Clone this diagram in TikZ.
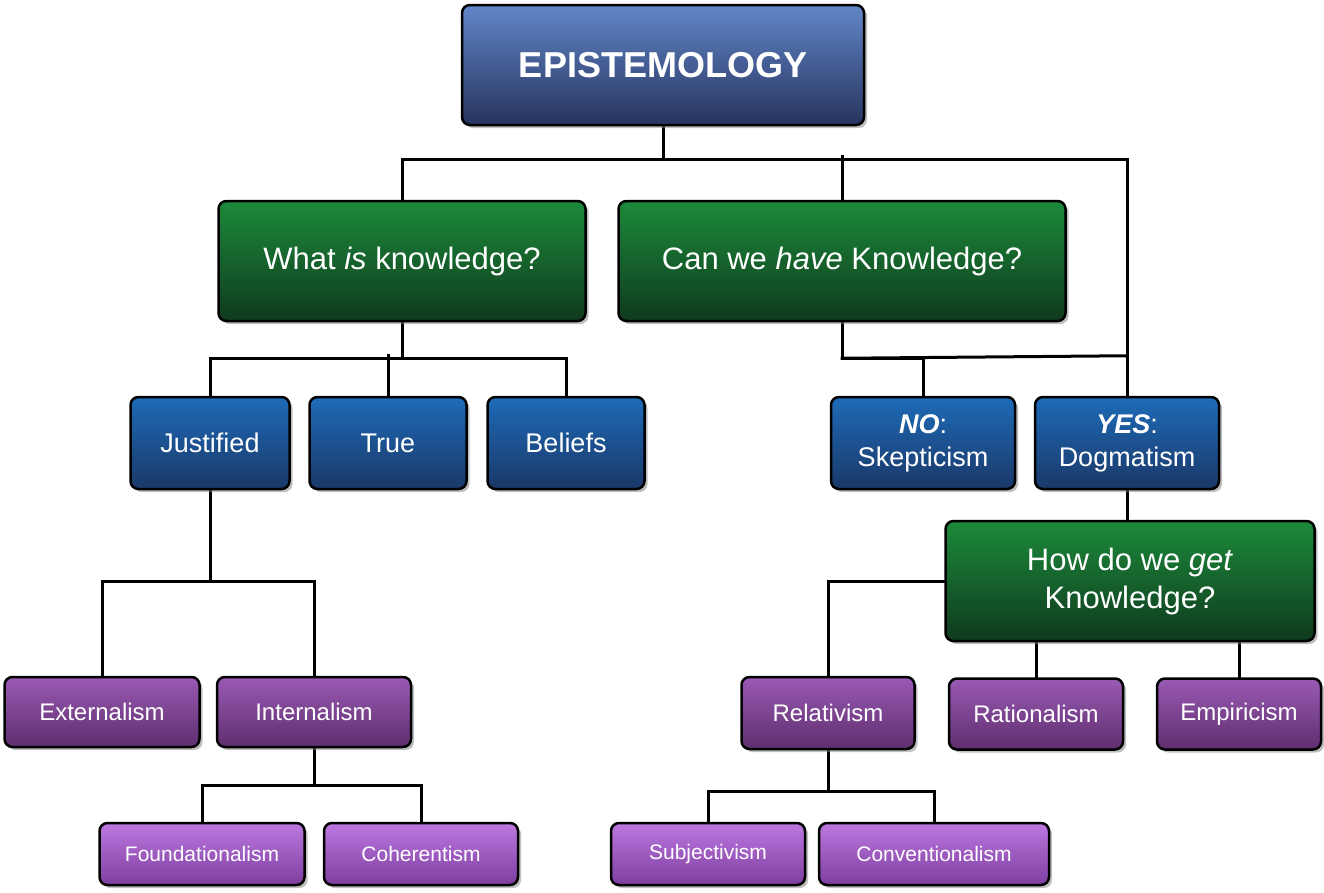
\documentclass[tikz,border=0pt]{standalone}
\usepackage{fontspec}
\setmainfont{Liberation Sans}
\usetikzlibrary{shadows,backgrounds,calc}
\definecolor{epiA}{HTML}{6286C8}\definecolor{epiB}{HTML}{26345E}
\definecolor{grA}{HTML}{1C8A3A}\definecolor{grB}{HTML}{0F3A1E}
\definecolor{blA}{HTML}{1E6BB8}\definecolor{blB}{HTML}{1A3868}
\definecolor{puA}{HTML}{9A5AB4}\definecolor{puB}{HTML}{5E2E6E}
\definecolor{lpA}{HTML}{BC78E0}\definecolor{lpB}{HTML}{7E3EA0}
\tikzset{
 box/.style={draw=black,line width=2.5pt,rounded corners=8pt,text=white,align=center,inner sep=0pt,
   shading angle=30,drop shadow={shadow xshift=3pt,shadow yshift=-3pt,opacity=0.5}},
 epibox/.style={box,top color=epiA,bottom color=epiB,font=\bfseries\fontsize{36}{40}\selectfont},
 grbox/.style={box,top color=grA,bottom color=grB,font=\fontsize{31}{38}\selectfont},
 blbox/.style={box,top color=blA,bottom color=blB,font=\fontsize{27}{33}\selectfont},
 pubox/.style={box,top color=puA,bottom color=puB,font=\fontsize{24}{28}\selectfont},
 lpbox/.style={box,top color=lpA,bottom color=lpB,font=\fontsize{21}{25}\selectfont},
 ln/.style={line width=3pt,line cap=rect}
}
\newcommand{\bx}[7]{\node[#1,minimum width=#4pt,minimum height=#5pt] (#6) at (#2,#3) {#7};}
\begin{document}
\begin{tikzpicture}[x=1pt,y=-1pt]
\useasboundingbox (0,0) rectangle (1324,892);
\bx{epibox}{663}{65}{402}{120}{epi}{EPISTEMOLOGY}
\bx{grbox}{402}{261}{367}{120}{what}{What \textit{is} knowledge?}
\bx{grbox}{842}{261}{447}{120}{can}{Can we \textit{have} Knowledge?}
\bx{blbox}{210}{443}{159}{92}{just}{Justified}
\bx{blbox}{388}{443}{157}{92}{true}{True}
\bx{blbox}{566}{443}{157}{92}{bel}{Beliefs}
\bx{blbox}{923}{443}{184}{92}{no}{\textbf{\textit{NO}}:\\Skepticism}
\bx{blbox}{1127}{443}{184}{92}{yes}{\textbf{\textit{YES}}:\\Dogmatism}
\bx{grbox}{1130}{581}{369}{120}{how}{How do we \textit{get}\\Knowledge?}
\bx{pubox}{102}{712}{195}{70}{ext}{Externalism}
\bx{pubox}{314}{712}{194}{70}{int}{Internalism}
\bx{pubox}{828}{713}{173}{72}{rel}{Relativism}
\bx{pubox}{1036}{714}{174}{71}{rat}{Rationalism}
\bx{pubox}{1239}{714}{164}{71}{emp}{Empiricism}
\bx{lpbox}{202}{854}{205}{62}{fou}{Foundationalism}
\bx{lpbox}{421}{854}{194}{62}{coh}{Coherentism}
\bx{lpbox}{708}{854}{194}{62}{sub}{Subjectivism}
\bx{lpbox}{934}{854}{230}{62}{con}{Conventionalism}
\begin{scope}[on background layer]
\draw[ln] (epi.south) -- ++(0,33);
\draw[ln] (what.north) |- ($(epi.south)+(0,33)$) -| (yes.north);
\draw[ln] (can.north) -- ++(0,-43);
\draw[ln] (can.south) -- ++(0,36) -| (no.north);
\draw[ln] ($(can.south)+(0,36)$) -- ($(yes.north)+(0,-40)$);
\draw[ln] (what.south) -- ++(0,36);
\draw[ln] (just.north) |- ($(what.south)+(0,36)$) -| (bel.north);
\draw[ln] (true.north) -- ++(0,-40);
\draw[ln] (just.south) -- ++(0,91);
\draw[ln] (ext.north) |- ($(just.south)+(0,91)$) -| (int.north);
\draw[ln] (int.south) -- ++(0,37);
\draw[ln] (fou.north) |- ($(int.south)+(0,37)$) -| (coh.north);
\draw[ln] (yes.south) -- (yes.south |- how.north);
\draw[ln] (how.west) -| (rel.north);
\draw[ln] (rat.north |- how.south) -- (rat.north);
\draw[ln] (emp.north |- how.south) -- (emp.north);
\draw[ln] (rel.south) -- ++(0,41);
\draw[ln] (sub.north) |- ($(rel.south)+(0,41)$) -| (con.north);
\end{scope}
\end{tikzpicture}
\end{document}
